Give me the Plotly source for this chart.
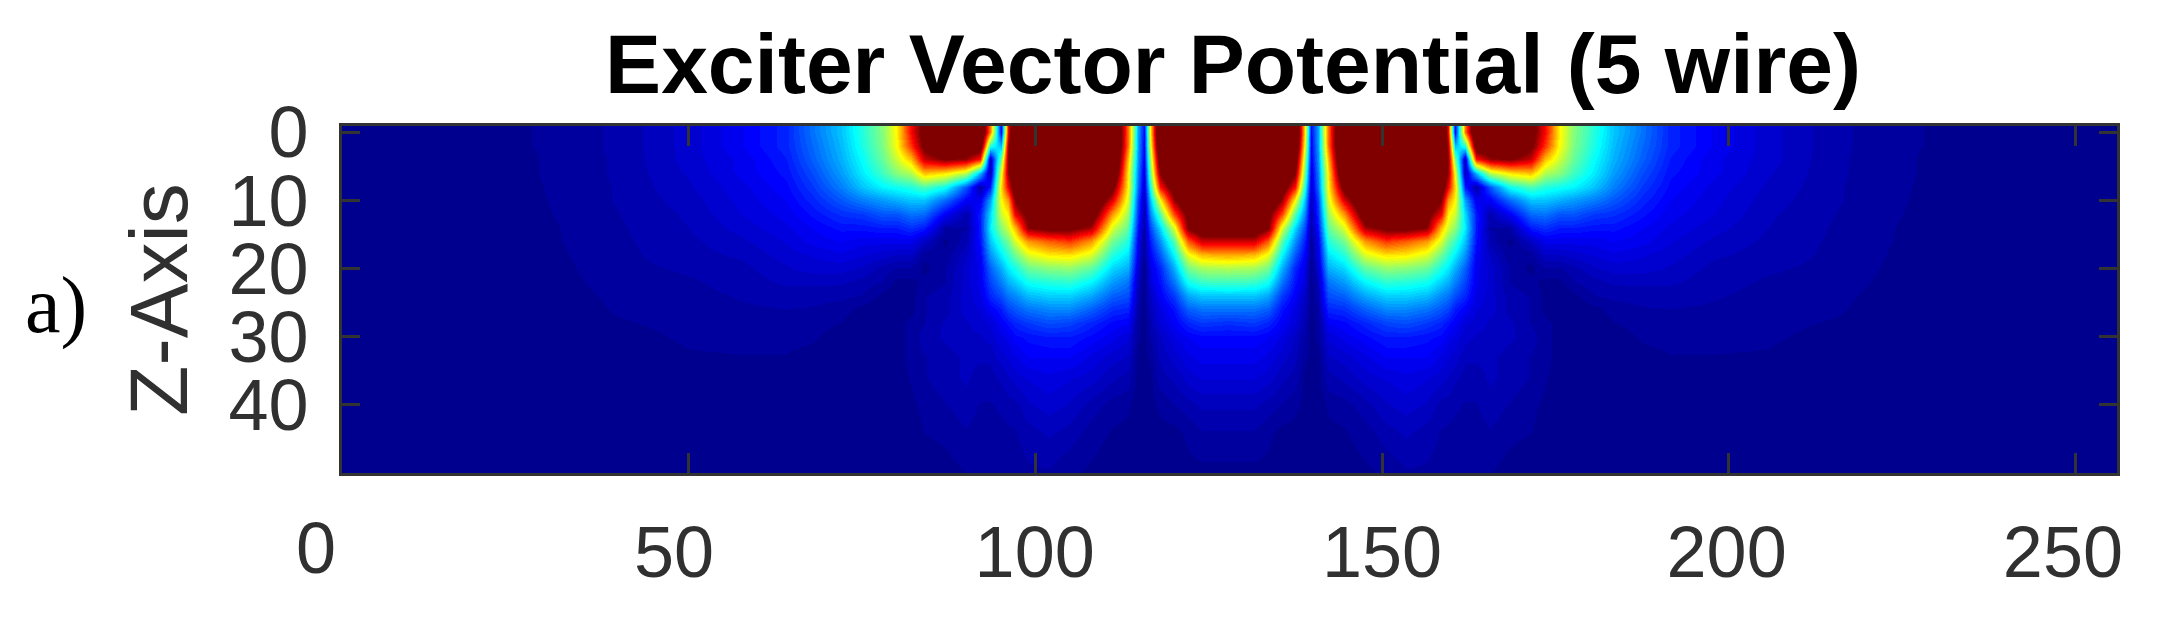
import plotly.graph_objects as go

# depth rows (Z-axis) and column positions
depth = [0, 2, 4, 6, 8, 10, 12, 14, 16, 18, 20, 22, 24, 26, 28, 30, 33, 36, 40, 44, 50]
x_pos = [0, 28, 40, 50, 58, 64, 68, 72, 75, 78, 80, 82, 84, 87, 90, 92, 93.5, 95, 96, 97, 99, 102, 105, 108, 111,
         113.3, 114.8, 115.7, 116.6, 118, 120, 122, 124, 127.75,
         131.5, 133.5, 135.5, 137.5, 138.9, 139.8, 140.7, 142.2, 144.5, 147.5, 150.5, 153.5, 156.5, 158.5, 159.5, 160.5,
         162, 163.5, 165.5, 168.5, 171.5, 173.5, 175.5, 177.5, 180.5, 183.5, 187.5, 191.5, 197.5, 205.5, 215.5,
         227.5, 256]

# field level per column, top to bottom (0 = navy, 100+ = dark red)
z_columns = [
    [0, 0, 0, 0, 0, 0, 0, 0, 0, 0, 0, 0, 0, 0, 0, 0, 0, 0, 0, 0, 0],
    [1.6, 1.6, 1.5, 1.5, 1.4, 1.3, 1.2, 1, 1, 0.8, 0.6, 0.5, 0.3, 0, 0, 0, 0, 0, 0, 0, 0],
    [3.5, 3.5, 3.4, 3.4, 3.3, 3.3, 3.1, 2.9, 2.8, 2.7, 2.6, 2.3, 2, 1.8, 1.4, 1, 0.6, 0.3, 0, 0, 0],
    [7, 7, 7, 6.5, 6, 5.5, 5, 4.7, 4.3, 4, 3.4, 2.9, 2.6, 2.3, 2, 1.8, 1.4, 1, 0.5, 0, 0],
    [11, 11, 10, 10, 9, 8.5, 8, 7, 6, 5, 4.3, 3.8, 3.3, 2.9, 2.3, 2, 1.5, 1, 0.5, 0, 0],
    [15, 15, 14, 13, 12, 11, 10, 9, 8, 7, 6, 5, 3.8, 3.1, 2.6, 2, 1.5, 1, 0.5, 0, 0],
    [23, 22, 21, 19, 17, 15, 13, 11, 10, 8, 7, 5, 3.6, 3, 2.4, 1.8, 1, 0.5, 0, 0, 0],
    [31, 30, 29, 27, 24, 20, 16, 13, 11, 9, 7, 5, 3.5, 2.4, 1.5, 0.5, 0, 0, 0, 0, 0],
    [40, 39, 37, 35, 31, 24, 17, 13, 10, 8, 6, 4, 3, 1, 0, 0, 0, 0, 0, 0, 0],
    [50, 49, 47, 43, 36, 27, 20, 14, 10, 7, 4, 3, 1, 0, 0, 1, 1, 1, 0, 0, 0],
    [63, 62, 57, 50, 38, 29, 20, 14, 10, 6, 3, 1, 0, 1, 1, 1, 1, 1, 1, 0, 0],
    [87, 82, 68, 54, 40, 31, 23, 16, 10, 6, 3, 1, 1, 1, 2, 2, 2, 1.7, 1.2, 0.8, 0],
    [105, 102, 92, 68, 44, 31, 22, 14, 6, 2, 1, 2, 3, 3, 3, 4, 3, 3, 2, 1.6, 0.3],
    [120, 115, 100, 64, 38, 22, 11, 3, 1, 2, 3, 3, 4, 4, 5, 5, 4, 4, 3, 2, 0.8],
    [120, 110, 97, 55, 20, 11, 4, 3, 4, 6, 7, 7, 7, 7, 6, 6, 5, 5, 4, 3, 1.6],
    [120, 110, 85, 30, 3, 10, 14, 14, 13, 11, 10, 10, 9, 8, 7, 6, 5, 4, 3, 2.4, 1.8],
    [75, 40, 5, 4, 14, 27, 33, 35, 31, 26, 21, 18, 15, 11, 8, 7, 5, 4, 3, 2.4, 2],
    [11, 30, 48, 60, 65, 62, 57, 50, 42, 35, 29, 24, 19, 14, 11, 9, 7, 5, 3.4, 2.6, 2],
    [87, 95, 98, 97, 88, 72, 63, 57, 48, 41, 35, 29, 23, 18, 13, 10, 8, 6, 4, 2.8, 2],
    [130, 130, 125, 115, 110, 100, 88, 68, 58, 47, 39, 32, 25, 20, 15, 12, 9, 7, 4, 3, 2.2],
    [150, 150, 145, 135, 125, 115, 104, 98, 72, 58, 47, 38, 30, 23, 17, 13, 11, 8, 6, 4, 2.8],
    [160, 160, 155, 150, 140, 130, 115, 103, 78, 63, 50, 40, 32, 25, 19, 14, 11, 9, 7, 5, 2.9],
    [160, 160, 155, 150, 140, 130, 118, 102, 82, 64, 51, 41, 32, 25, 18, 14, 11, 8, 6, 4, 1.8],
    [150, 150, 145, 135, 125, 118, 110, 95, 72, 58, 46, 36, 28, 21, 15, 12, 9, 7, 4, 2.4, 1.2],
    [130, 130, 128, 120, 105, 90, 72, 58, 48, 40, 33, 27, 21, 16, 12, 10, 7, 5, 2.4, 1.4, 0.5],
    [76, 75, 68, 63, 62, 58, 52, 46, 40, 34, 29, 23, 19, 15, 11, 8, 6, 4, 2, 1, 0],
    [28, 27, 26, 24, 22, 18, 16, 13, 10, 9, 7, 5, 4, 3, 2, 2, 1, 1, 0, 0, 0],
    [12, 11, 10, 8, 7, 5, 4, 3, 2, 2, 1, 1, 1, 1, 1, 1, 1, 0, 0, 0, 0],
    [62, 58, 52, 46, 38, 30, 24, 18, 14, 11, 9, 8, 6, 5, 4, 3, 2, 1, 1, 0, 0],
    [125, 120, 110, 100, 85, 62, 45, 33, 26, 20, 15, 13, 11, 9, 8, 6, 5, 4, 2, 1, 0],
    [135, 130, 125, 118, 108, 97, 80, 58, 45, 36, 29, 23, 17, 13, 11, 9, 7, 5, 3, 1, 0],
    [150, 148, 143, 135, 125, 115, 104, 100, 78, 60, 48, 38, 28, 21, 15, 11, 9, 7, 4, 2, 1],
    [160, 160, 155, 150, 140, 130, 120, 110, 92, 68, 53, 42, 31, 23, 17, 12, 10, 8, 5, 3, 1],
    [170, 170, 165, 160, 150, 140, 130, 112, 92, 70, 54, 43, 31, 23, 16, 12, 10, 8, 5, 3, 1],
    [160, 160, 155, 150, 140, 130, 120, 110, 92, 68, 53, 42, 31, 23, 17, 12, 10, 8, 5, 3, 1],
    [150, 148, 143, 135, 125, 115, 104, 100, 78, 60, 48, 38, 28, 21, 15, 11, 9, 7, 4, 2, 1],
    [135, 130, 125, 118, 108, 97, 80, 58, 45, 36, 29, 23, 17, 13, 11, 9, 7, 5, 3, 1, 0],
    [125, 120, 110, 100, 85, 62, 45, 33, 26, 20, 15, 13, 11, 9, 8, 6, 5, 4, 2, 1, 0],
    [62, 58, 52, 46, 38, 30, 24, 18, 14, 11, 9, 8, 6, 5, 4, 3, 2, 1, 1, 0, 0],
    [12, 11, 10, 8, 7, 5, 4, 3, 2, 2, 1, 1, 1, 1, 1, 1, 1, 0, 0, 0, 0],
    [28, 27, 26, 24, 22, 18, 16, 13, 10, 9, 7, 5, 4, 3, 2, 2, 1, 1, 0, 0, 0],
    [76, 75, 68, 63, 62, 58, 52, 46, 40, 34, 29, 23, 19, 15, 11, 8, 6, 4, 2, 1, 0],
    [130, 130, 128, 120, 105, 90, 72, 58, 48, 40, 33, 27, 21, 16, 12, 10, 7, 5, 2.4, 1.4, 0.5],
    [150, 150, 145, 135, 125, 118, 110, 95, 72, 58, 46, 36, 28, 21, 15, 12, 9, 7, 4, 2.4, 1.2],
    [160, 160, 155, 150, 140, 130, 118, 102, 82, 64, 51, 41, 32, 25, 18, 14, 11, 8, 6, 4, 1.8],
    [160, 160, 155, 150, 140, 130, 115, 103, 78, 63, 50, 40, 32, 25, 19, 14, 11, 9, 7, 5, 2.9],
    [150, 150, 145, 135, 125, 115, 104, 98, 72, 58, 47, 38, 30, 23, 17, 13, 11, 8, 6, 4, 2.8],
    [130, 130, 125, 115, 110, 100, 88, 68, 58, 47, 39, 32, 25, 20, 15, 12, 9, 7, 4, 3, 2.2],
    [87, 95, 98, 97, 88, 72, 63, 57, 48, 41, 35, 29, 23, 18, 13, 10, 8, 6, 4, 2.8, 2],
    [11, 30, 48, 60, 65, 62, 57, 50, 42, 35, 29, 24, 19, 14, 11, 9, 7, 5, 3.4, 2.6, 2],
    [75, 40, 5, 4, 14, 27, 33, 35, 31, 26, 21, 18, 15, 11, 8, 7, 5, 4, 3, 2.4, 2],
    [120, 110, 85, 30, 3, 10, 14, 14, 13, 11, 10, 10, 9, 8, 7, 6, 5, 4, 3, 2.4, 1.8],
    [120, 110, 97, 55, 20, 11, 4, 3, 4, 6, 7, 7, 7, 7, 6, 6, 5, 5, 4, 3, 1.6],
    [120, 115, 100, 64, 38, 22, 11, 3, 1, 2, 3, 3, 4, 4, 5, 5, 4, 4, 3, 2, 0.8],
    [105, 102, 92, 68, 44, 31, 22, 14, 6, 2, 1, 2, 3, 3, 3, 4, 3, 3, 2, 1.6, 0.3],
    [87, 82, 68, 54, 40, 31, 23, 16, 10, 6, 3, 1, 1, 1, 2, 2, 2, 1.7, 1.2, 0.8, 0],
    [63, 62, 57, 50, 38, 29, 20, 14, 10, 6, 3, 1, 0, 1, 1, 1, 1, 1, 1, 0, 0],
    [50, 49, 47, 43, 36, 27, 20, 14, 10, 7, 4, 3, 1, 0, 0, 1, 1, 1, 0, 0, 0],
    [40, 39, 37, 35, 31, 24, 17, 13, 10, 8, 6, 4, 3, 1, 0, 0, 0, 0, 0, 0, 0],
    [31, 30, 29, 27, 24, 20, 16, 13, 11, 9, 7, 5, 3.5, 2.4, 1.5, 0.5, 0, 0, 0, 0, 0],
    [23, 22, 21, 19, 17, 15, 13, 11, 10, 8, 7, 5, 3.6, 3, 2.4, 1.8, 1, 0.5, 0, 0, 0],
    [15, 15, 14, 13, 12, 11, 10, 9, 8, 7, 6, 5, 3.8, 3.1, 2.6, 2, 1.5, 1, 0.5, 0, 0],
    [11, 11, 10, 10, 9, 8.5, 8, 7, 6, 5, 4.3, 3.8, 3.3, 2.9, 2.3, 2, 1.5, 1, 0.5, 0, 0],
    [7, 7, 7, 6.5, 6, 5.5, 5, 4.7, 4.3, 4, 3.4, 2.9, 2.6, 2.3, 2, 1.8, 1.4, 1, 0.5, 0, 0],
    [3.5, 3.5, 3.4, 3.4, 3.3, 3.3, 3.1, 2.9, 2.8, 2.7, 2.6, 2.3, 2, 1.8, 1.4, 1, 0.6, 0.3, 0, 0, 0],
    [1.6, 1.6, 1.5, 1.5, 1.4, 1.3, 1.2, 1, 1, 0.8, 0.6, 0.5, 0.3, 0, 0, 0, 0, 0, 0, 0, 0],
    [0, 0, 0, 0, 0, 0, 0, 0, 0, 0, 0, 0, 0, 0, 0, 0, 0, 0, 0, 0, 0],
]

# ticks, and the x labels, which sit a little left of their ticks in the original
x_ticks = [50, 100, 150, 200, 250]
x_label_pos = [47.9, 99.9, 150, 199.7, 248.2]
x_labels = ['50', '100', '150', '200', '250']
x_zero_pos = -3.7
y_ticks = [0, 10, 20, 30, 40]

AXIS_COLOR = '#333333'
TEXT_COLOR = '#303030'
SANS = 'Liberation Sans'


def jet_steps(n=64):
    """MATLAB style jet as n flat colour steps"""
    def clip(v):
        return int(round(255 * max(0, min(1, v))))

    stops = []
    for i in range(n):
        t = (i + 1) / n
        r = clip(min(4 * t - 1.5, -4 * t + 4.5))
        g = clip(min(4 * t - 0.5, -4 * t + 3.5))
        b = clip(min(4 * t + 0.5, -4 * t + 2.5))
        color = f'rgb({r},{g},{b})'
        stops.append([i / n, color])
        stops.append([(i + 1) / n, color])
    return stops


z_rows = [list(row) for row in zip(*z_columns)]

fig = go.Figure()

fig.add_trace(go.Heatmap(
    x=x_pos,
    y=depth,
    z=z_rows,
    zmin=0,
    zmax=100,
    zsmooth='best',
    colorscale=jet_steps(),
    showscale=False,
    hoverinfo='skip',
))

# empty trace so the label axis gets drawn
fig.add_trace(go.Scatter(x=[], y=[], xaxis='x2', showlegend=False))

# the page adds 8px of body margin, so left and top are 8 short
fig.update_layout(
    width=2161,
    height=630,
    margin=dict(l=334, r=52, t=118, b=165),
    paper_bgcolor='white',
    plot_bgcolor='white',
    showlegend=False,
    title=dict(
        text='<b>Exciter Vector Potential (5 wire)</b>',
        font=dict(family=SANS, size=84, color='black'),
        x=1225 / 2161,
        xanchor='center',
        y=1 - 56 / 630,
        yanchor='middle',
    ),
    xaxis=dict(
        range=[0, 256],
        tickvals=x_ticks,
        showticklabels=False,
        ticks='inside',
        ticklen=20,
        tickwidth=3,
        tickcolor=AXIS_COLOR,
        showline=True,
        linewidth=3,
        linecolor=AXIS_COLOR,
        mirror='ticks',
        showgrid=False,
        zeroline=False,
    ),
    xaxis2=dict(
        overlaying='x',
        anchor='y',
        side='bottom',
        range=[0, 256],
        tickmode='array',
        tickvals=x_label_pos,
        ticktext=x_labels,
        ticks='',
        ticklabelstandoff=31,
        tickfont=dict(family=SANS, size=72, color=TEXT_COLOR),
        tickangle=0,
        showline=False,
        showgrid=False,
        zeroline=False,
    ),
    yaxis=dict(
        range=[50, -0.9],
        tickvals=y_ticks,
        ticks='inside',
        ticklen=18,
        tickwidth=3,
        tickcolor=AXIS_COLOR,
        ticklabelstandoff=16,
        tickfont=dict(family=SANS, size=72, color=TEXT_COLOR),
        showline=True,
        linewidth=3,
        linecolor=AXIS_COLOR,
        mirror='ticks',
        showgrid=False,
        zeroline=False,
        title=dict(text='Z-Axis', font=dict(family=SANS, size=82, color=TEXT_COLOR), standoff=14),
    ),
    annotations=[
        dict(
            text='a)',
            xref='paper',
            yref='paper',
            x=-342 / 1775 + 56 / 1775,
            y=1 - (305 - 126) / 347,
            xanchor='center',
            yanchor='middle',
            showarrow=False,
            font=dict(family='Liberation Serif', size=80, color='black'),
        ),
        # this label falls left of the axis range, where tick labels get dropped
        dict(
            text='0',
            xref='paper',
            yref='paper',
            x=x_zero_pos / 256,
            y=-0.216,
            xanchor='center',
            yanchor='middle',
            showarrow=False,
            font=dict(family=SANS, size=72, color=TEXT_COLOR),
        ),
    ],
)

fig.write_html("out.html")
